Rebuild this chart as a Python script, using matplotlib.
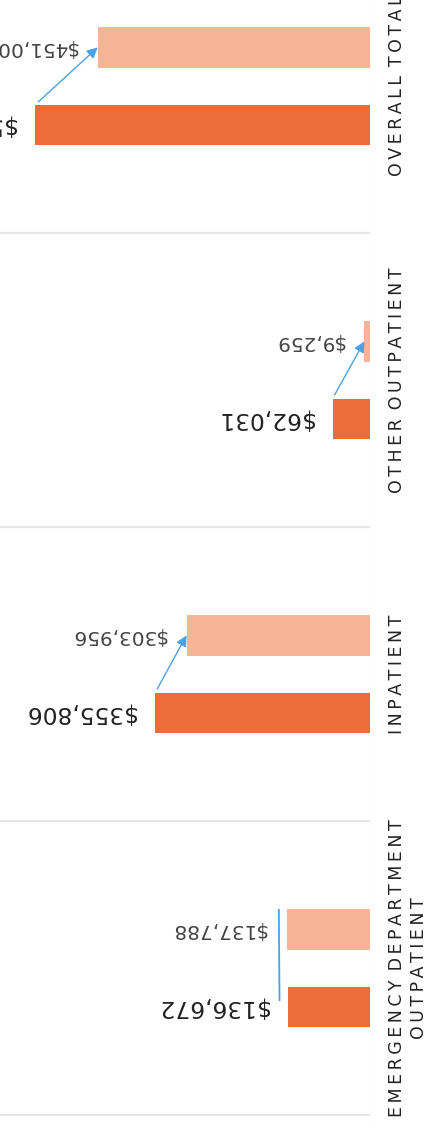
import matplotlib
matplotlib.use("Agg")
import matplotlib.pyplot as plt
import matplotlib.transforms as mtransforms
import numpy as np

# Cost comparison by service type (first period vs. second period)
categories = ["EMERGENCY DEPARTMENT\nOUTPATIENT", "INPATIENT", "OTHER OUTPATIENT", "OVERALL TOTAL"]
period_1 = [136672, 355806, 62031, 554509]
period_2 = [137788, 303956, 9259, 451003]

DARK = "#EE6C3A"
LIGHT = "#F8B496"
BLUE = "#4AA3E6"
GRID = "#E6E6E6"


def spaced(label):
    # letter-spaced uppercase label
    lines = []
    for line in label.split("\n"):
        words = ["\u2009".join(w) for w in line.split(" ")]
        lines.append(" \u2009".join(words))
    return "\n".join(lines)


fig = plt.figure(figsize=(4.29, 11.28), dpi=100)
ax = fig.add_axes([0, 0, 370 / 429, 1])

pos = np.arange(len(categories))
off = 0.132
h = 0.138

ax.barh(pos - off, period_1, height=h, color=DARK, zorder=3)
ax.barh(pos + off, period_2, height=h, color=LIGHT, zorder=3)

# separators between groups
for p in pos:
    ax.axhline(p - 0.5, color=GRID, lw=1.6, zorder=1)
ax.axvline(0, color="#F2F2F2", lw=1.0, zorder=1)

# value labels
for p, v in zip(pos, period_1):
    ax.annotate(f"${v:,}", xy=(v, p - off), xytext=(-20, 0), textcoords="offset pixels",
                rotation=180, ha="right", va="center", fontsize=16.8, color="#222222")
for p, v in zip(pos, period_2):
    ax.annotate(f"${v:,}", xy=(v, p + off), xytext=(-20, 0), textcoords="offset pixels",
                rotation=180, ha="right", va="center", fontsize=14.4, color="#444444")

# change connectors from first-period to second-period bar
shifted = mtransforms.offset_copy(ax.transData, fig=fig, x=-8, y=0, units="dots")
for p, a, b in zip(pos, period_1, period_2):
    if abs(a - b) / a < 0.02:
        ax.plot([b, a], [p + off + h / 2, p - off + 0.02], color=BLUE, lw=1.3,
                transform=shifted, zorder=4, solid_capstyle="butt")
    else:
        ax.annotate("", xy=(b, p + off), xytext=(a, p - off + h / 2),
                    arrowprops=dict(arrowstyle="-|>", color=BLUE, lw=1.0,
                                    mutation_scale=16, shrinkA=3, shrinkB=0),
                    zorder=4)

ax.set_xlim(613000, 0)
ax.set_ylim(-0.544, 3.293)

ax.yaxis.tick_right()
ax.set_yticks(pos)
ax.set_yticklabels([spaced(c) for c in categories], rotation=90, va="center",
                   ha="left", multialignment="center", fontsize=12.5, color="#222222",
                   linespacing=1.25)
ax.tick_params(axis="y", length=0, pad=13)
ax.set_xticks([])
for s in ax.spines.values():
    s.set_visible(False)

fig.savefig("out.png", dpi=100)
